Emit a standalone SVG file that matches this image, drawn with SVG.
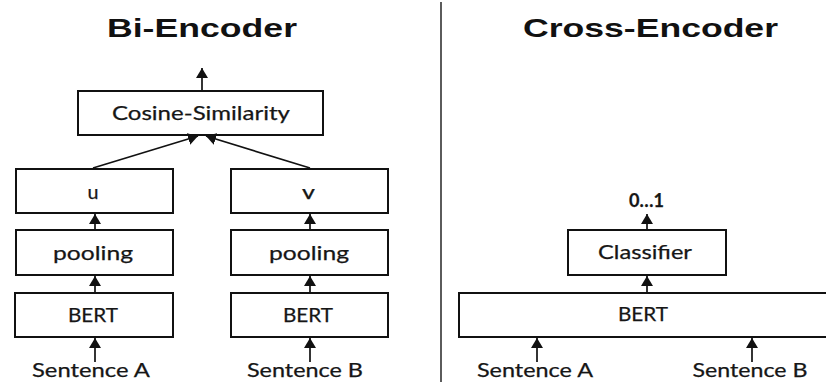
<svg xmlns="http://www.w3.org/2000/svg" width="826" height="382" viewBox="0 0 826 382">
  <style>
    .box { fill: #ffffff; stroke: #111111; stroke-width: 2; }
    .lbl { font-family: Lato, "Open Sans", "Liberation Sans", sans-serif; font-size: 19px; fill: #161616; text-anchor: middle; stroke: #161616; stroke-width: 0.25; }
    .title { font-family: "Liberation Sans", Arial, sans-serif; font-weight: bold; font-size: 26.5px; fill: #111111; text-anchor: middle; }
    .edge { stroke: #111111; stroke-width: 1.7; fill: none; marker-end: url(#ah); }
    .divider { stroke: #333333; stroke-width: 1.6; }
  </style>
  <defs>
    <marker id="ah" markerUnits="userSpaceOnUse" markerWidth="11" markerHeight="12" refX="10" refY="6" orient="auto">
      <path d="M0,0 L10,6 L0,12 z" fill="#111111"/>
    </marker>
  </defs>

  <rect width="826" height="382" fill="#ffffff"/>

  <!-- section titles -->
  <text class="title" x="202" y="37" textLength="190" lengthAdjust="spacingAndGlyphs">Bi-Encoder</text>
  <text class="title" x="650.5" y="37" textLength="255" lengthAdjust="spacingAndGlyphs">Cross-Encoder</text>

  <!-- vertical separator -->
  <line class="divider" x1="441" y1="2" x2="441" y2="382"/>

  <!-- Bi-Encoder nodes -->
  <g id="cosine">
    <rect class="box" x="78" y="91" width="245" height="44"/>
    <text class="lbl" x="201" y="120" textLength="178" lengthAdjust="spacingAndGlyphs">Cosine-Similarity</text>
  </g>
  <g id="u">
    <rect class="box" x="16" y="169" width="157" height="44"/>
    <text class="lbl" x="93" y="199" textLength="11" lengthAdjust="spacingAndGlyphs">u</text>
  </g>
  <g id="v">
    <rect class="box" x="231" y="169" width="157" height="44"/>
    <text class="lbl" x="308.5" y="199" textLength="13" lengthAdjust="spacingAndGlyphs">v</text>
  </g>
  <g id="pooling-a">
    <rect class="box" x="16" y="230" width="157" height="45"/>
    <text class="lbl" x="93" y="260" textLength="80" lengthAdjust="spacingAndGlyphs">pooling</text>
  </g>
  <g id="pooling-b">
    <rect class="box" x="231" y="230" width="157" height="45"/>
    <text class="lbl" x="309" y="260" textLength="80" lengthAdjust="spacingAndGlyphs">pooling</text>
  </g>
  <g id="bert-a">
    <rect class="box" x="15" y="293" width="158" height="44"/>
    <text class="lbl" x="93" y="322" textLength="50" lengthAdjust="spacingAndGlyphs">BERT</text>
  </g>
  <g id="bert-b">
    <rect class="box" x="231" y="293" width="157" height="44"/>
    <text class="lbl" x="308" y="322" textLength="50" lengthAdjust="spacingAndGlyphs">BERT</text>
  </g>
  <g id="sentence-a">
    <text class="lbl" x="91" y="377" textLength="118" lengthAdjust="spacingAndGlyphs">Sentence A</text>
  </g>
  <g id="sentence-b">
    <text class="lbl" x="305" y="377" textLength="116" lengthAdjust="spacingAndGlyphs">Sentence B</text>
  </g>

  <!-- Cross-Encoder nodes -->
  <g id="score">
    <text class="lbl" x="646.5" y="207" font-size="14" textLength="35" lengthAdjust="spacingAndGlyphs" font-weight="bold">0…1</text>
  </g>
  <g id="classifier">
    <rect class="box" x="568" y="230" width="158" height="45"/>
    <text class="lbl" x="645" y="259" textLength="94" lengthAdjust="spacingAndGlyphs">Classifier</text>
  </g>
  <g id="bert-cross">
    <rect class="box" x="459" y="293" width="372" height="44"/>
    <text class="lbl" x="643" y="321" textLength="50" lengthAdjust="spacingAndGlyphs">BERT</text>
  </g>
  <g id="sentence-a-cross">
    <text class="lbl" x="535" y="377" textLength="116" lengthAdjust="spacingAndGlyphs">Sentence A</text>
  </g>
  <g id="sentence-b-cross">
    <text class="lbl" x="750" y="377" textLength="115" lengthAdjust="spacingAndGlyphs">Sentence B</text>
  </g>

  <!-- connectors -->
  <g id="connectors">
    <line class="edge" x1="202" y1="90" x2="202" y2="68"/>
    <line class="edge" x1="93" y1="168" x2="198" y2="136"/>
    <line class="edge" x1="310" y1="168" x2="206" y2="136"/>
    <line class="edge" x1="95" y1="229" x2="95" y2="214"/>
    <line class="edge" x1="310" y1="229" x2="310" y2="214"/>
    <line class="edge" x1="95" y1="292" x2="95" y2="276"/>
    <line class="edge" x1="310" y1="292" x2="310" y2="276"/>
    <line class="edge" x1="95" y1="362" x2="95" y2="338"/>
    <line class="edge" x1="310" y1="362" x2="310" y2="338"/>
    <line class="edge" x1="647" y1="229" x2="647" y2="214"/>
    <line class="edge" x1="647" y1="292" x2="647" y2="276"/>
    <line class="edge" x1="537" y1="362" x2="537" y2="338"/>
    <line class="edge" x1="752" y1="362" x2="752" y2="338"/>
  </g>
</svg>
